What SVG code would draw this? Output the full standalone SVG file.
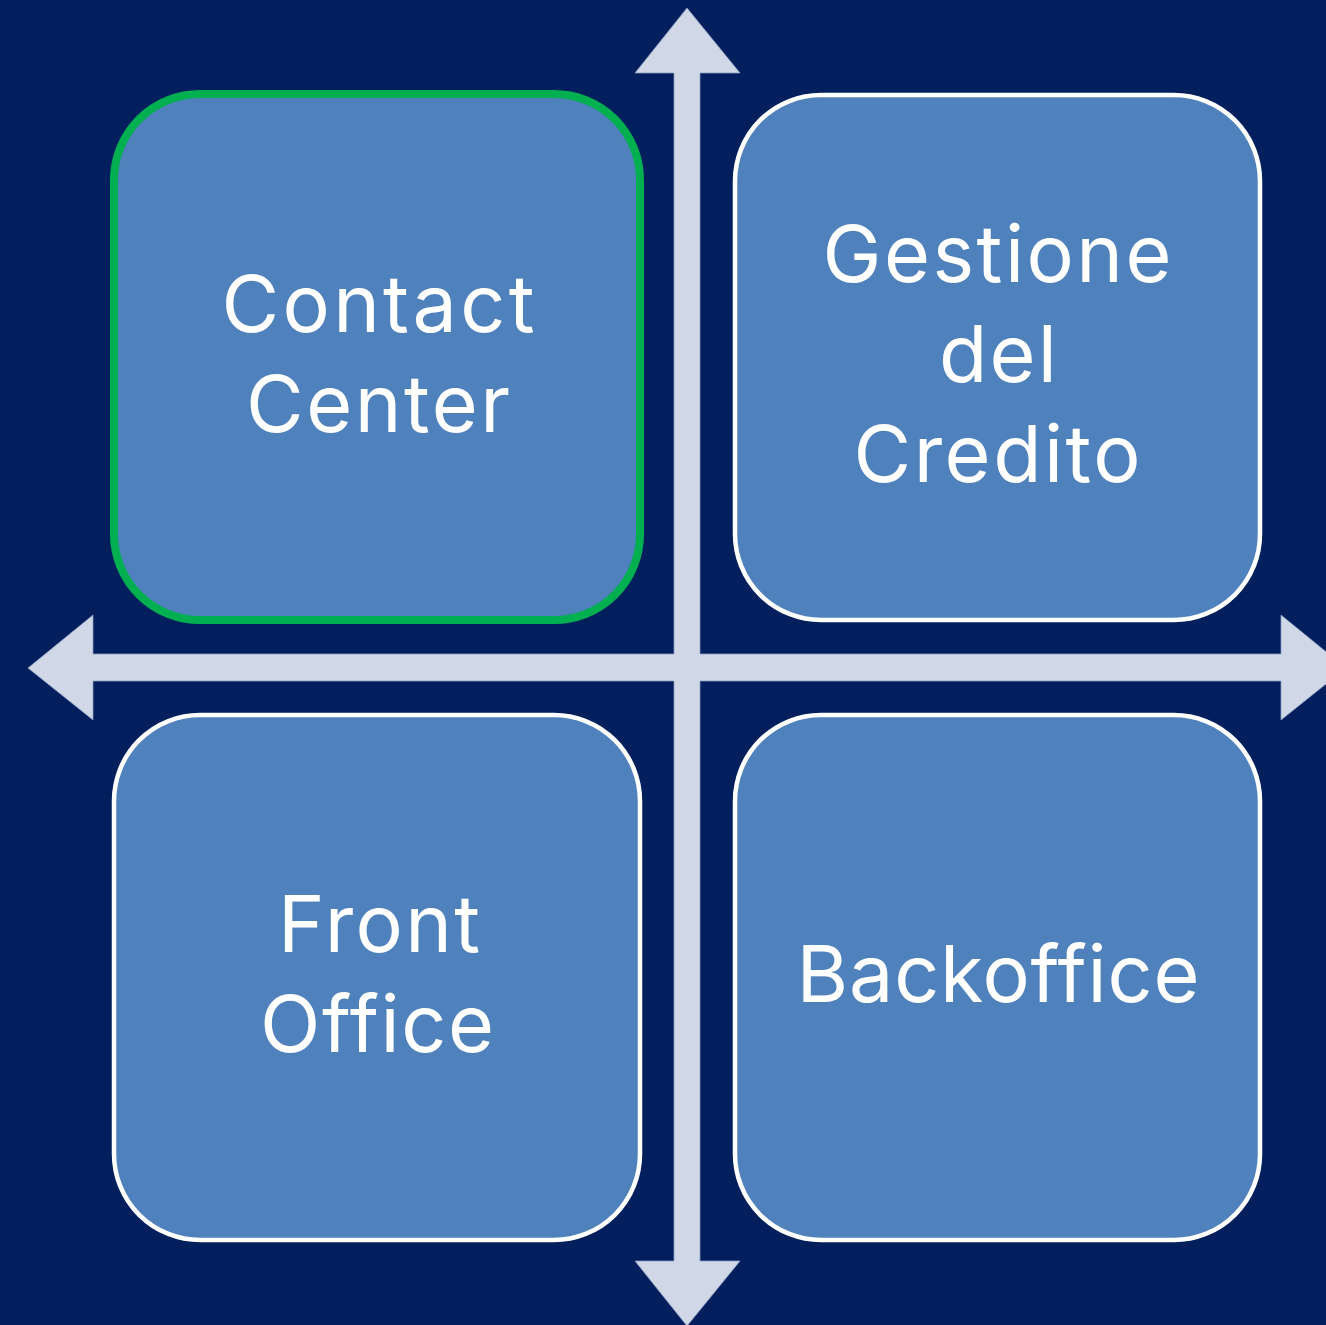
<svg xmlns="http://www.w3.org/2000/svg" width="1326" height="1325" viewBox="0 0 1326 1325">
<style>
.box{fill:#4F81BD;stroke:#FFFFFF;stroke-width:4.5}
.sel{stroke:#00B050;stroke-width:8}
.arr{fill:#D0D8E8;stroke:#8A9CC0;stroke-width:0.8}
.lbl{font-family:Inter,"Open Sans","Liberation Sans",sans-serif;font-size:79px;fill:#FFFFFF;text-anchor:middle}
</style>
<rect width="1326" height="1325" fill="#001F5C"/>
<g id="connectors">
<polygon class="arr" points="687,8 740,73 700,73 700,654 1281,654 1281,615 1346,668 1281,720 1281,681 700,681 700,1261 740,1261 687,1326 635,1261 674,1261 674,681 93,681 93,720 28,668 93,615 93,654 674,654 674,73 635,73"/>
</g>
<g id="contact-center">
<rect class="box sel" x="114" y="94" width="526" height="526" rx="86" ry="86"/>
<text class="lbl" x="378" y="332" textLength="313" lengthAdjust="spacing">Contact</text>
<text class="lbl" x="378" y="432" textLength="264" lengthAdjust="spacing">Center</text>
</g>
<g id="gestione-del-credito">
<rect class="box" x="735" y="95" width="525" height="525" rx="86" ry="86"/>
<text class="lbl" x="997" y="282" textLength="349" lengthAdjust="spacing">Gestione</text>
<text class="lbl" x="998" y="382" textLength="118" lengthAdjust="spacing">del</text>
<text class="lbl" x="997" y="482" textLength="287" lengthAdjust="spacing">Credito</text>
</g>
<g id="front-office">
<rect class="box" x="114" y="715" width="526" height="525" rx="86" ry="86"/>
<text class="lbl" x="379" y="952" textLength="202" lengthAdjust="spacing">Front</text>
<text class="lbl" x="377" y="1052" textLength="234" lengthAdjust="spacing">Office</text>
</g>
<g id="backoffice">
<rect class="box" x="735" y="715" width="525" height="525" rx="86" ry="86"/>
<text class="lbl" x="998" y="1002" textLength="403" lengthAdjust="spacing">Backoffice</text>
</g>
</svg>
